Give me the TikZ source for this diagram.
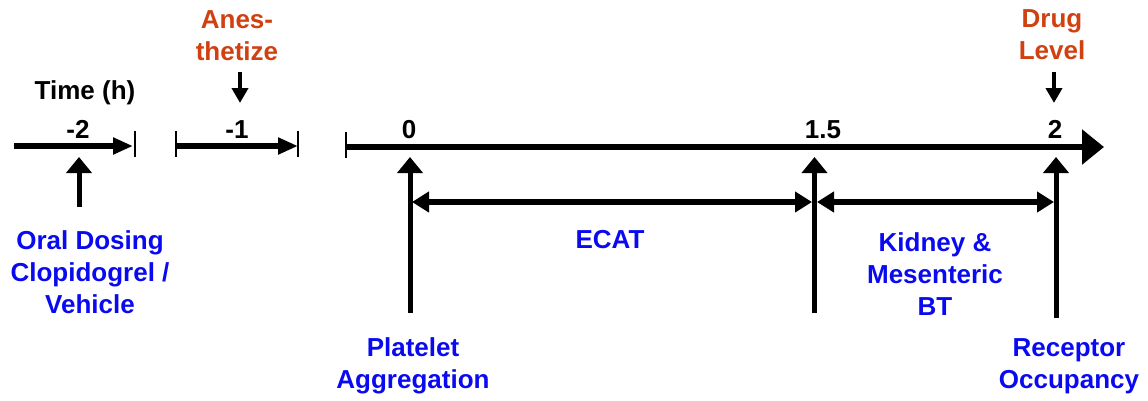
\documentclass[tikz,border=0pt]{standalone}
\usepackage{fontspec}
\setmainfont{Liberation Sans}
\usetikzlibrary{arrows.meta}
\definecolor{lblblue}{RGB}{10,10,240}
\definecolor{lblred}{RGB}{208,64,16}
\begin{document}
\begin{tikzpicture}[x=1pt,y=-1pt,
  txt/.style={font=\bfseries\fontsize{26}{32}\selectfont, align=center, inner sep=0pt},
  bluetxt/.style={txt, text=lblblue},
  redtxt/.style={txt, text=lblred},
  axis/.style={line width=6.5pt, -{Triangle[length=20pt,width=16pt]}},
  mainaxis/.style={line width=6.5pt, -{Triangle[length=22pt,width=34pt]}},
  tickmark/.style={line width=1.3pt},
  uparrow/.style={line width=5pt, -{Triangle[length=16pt,width=25pt]}},
  downarrow/.style={line width=4pt, -{Triangle[length=15pt,width=16pt]}},
  span/.style={line width=6pt, {Triangle[length=17pt,width=20pt]}-{Triangle[length=17pt,width=20pt]}},
  vline/.style={line width=5pt}
]
\useasboundingbox (0,0) rectangle (1148,400);

% coordinates
\coordinate (a1s) at (14,146);
\coordinate (a1e) at (133,146);
\coordinate (a2s) at (176,146);
\coordinate (a2e) at (298,146);
\coordinate (a3s) at (346,147);
\coordinate (a3e) at (1104,147);

% ticks
\coordinate (t1a) at (135,131); \coordinate (t1b) at (135,157);
\coordinate (t2a) at (176,131); \coordinate (t2b) at (176,157);
\coordinate (t3a) at (298,131); \coordinate (t3b) at (298,157);
\coordinate (t4a) at (346,132); \coordinate (t4b) at (346,158);

\draw[axis] (a1s) -- (a1e);
\draw[axis] (a2s) -- (a2e);
\draw[mainaxis] (a3s) -- (a3e);
\draw[tickmark] (t1a) -- (t1b);
\draw[tickmark] (t2a) -- (t2b);
\draw[tickmark] (t3a) -- (t3b);
\draw[tickmark] (t4a) -- (t4b);

% axis labels
\node[txt, anchor=base] (time) at (85,99) {Time (h)};
\node[txt, anchor=base] (nm2) at (78,138) {-2};
\node[txt, anchor=base] (nm1) at (237,138) {-1};
\node[txt, anchor=base] (n0) at (409,138) {0};
\node[txt, anchor=base] (n15) at (823,138) {1.5};
\node[txt, anchor=base] (n2) at (1055,138) {2};

% top labels
\node[redtxt, anchor=base] (anes) at (237,60) {Anes-\\thetize};
\node[redtxt, anchor=base] (drug) at (1052,59) {Drug\\Level};
\coordinate (anesA) at (240,72);
\coordinate (anesB) at (240,103);
\coordinate (drugA) at (1054,72);
\coordinate (drugB) at (1054,103);
\draw[downarrow] (anesA) -- (anesB);
\draw[downarrow] (drugA) -- (drugB);

% vertical event lines
\coordinate (p0b) at (410,313);
\coordinate (p0t) at (410,157);
\coordinate (p15b) at (814.5,313);
\coordinate (p15t) at (814.5,157);
\coordinate (p2b) at (1056,318);
\coordinate (p2t) at (1056,157);
\coordinate (pm2b) at (79,207);
\coordinate (pm2t) at (79,157);
\draw[uparrow] (p0b) -- (p0t);
\draw[uparrow] (p15b) -- (p15t);
\draw[uparrow] (p2b) -- (p2t);
\draw[uparrow] (pm2b) -- (pm2t);

% spans
\coordinate (s0) at (412,202);
\coordinate (s15) at (812,202);
\coordinate (s15r) at (817,202);
\coordinate (s2) at (1054,202);
\draw[span] (s0) -- (s15);
\draw[span] (s15r) -- (s2);

% bottom labels
\node[bluetxt, anchor=base] (oral) at (90,313) {Oral Dosing\\Clopidogrel /\\Vehicle};
\node[bluetxt, anchor=base] (ecat) at (610,248) {ECAT};
\node[bluetxt, anchor=base] (kid) at (935,315) {Kidney \&\\Mesenteric\\BT};
\node[bluetxt, anchor=base] (plat) at (413,388) {Platelet\\Aggregation};
\node[bluetxt, anchor=base] (rec) at (1069,388) {Receptor\\Occupancy};
\end{tikzpicture}
\end{document}
